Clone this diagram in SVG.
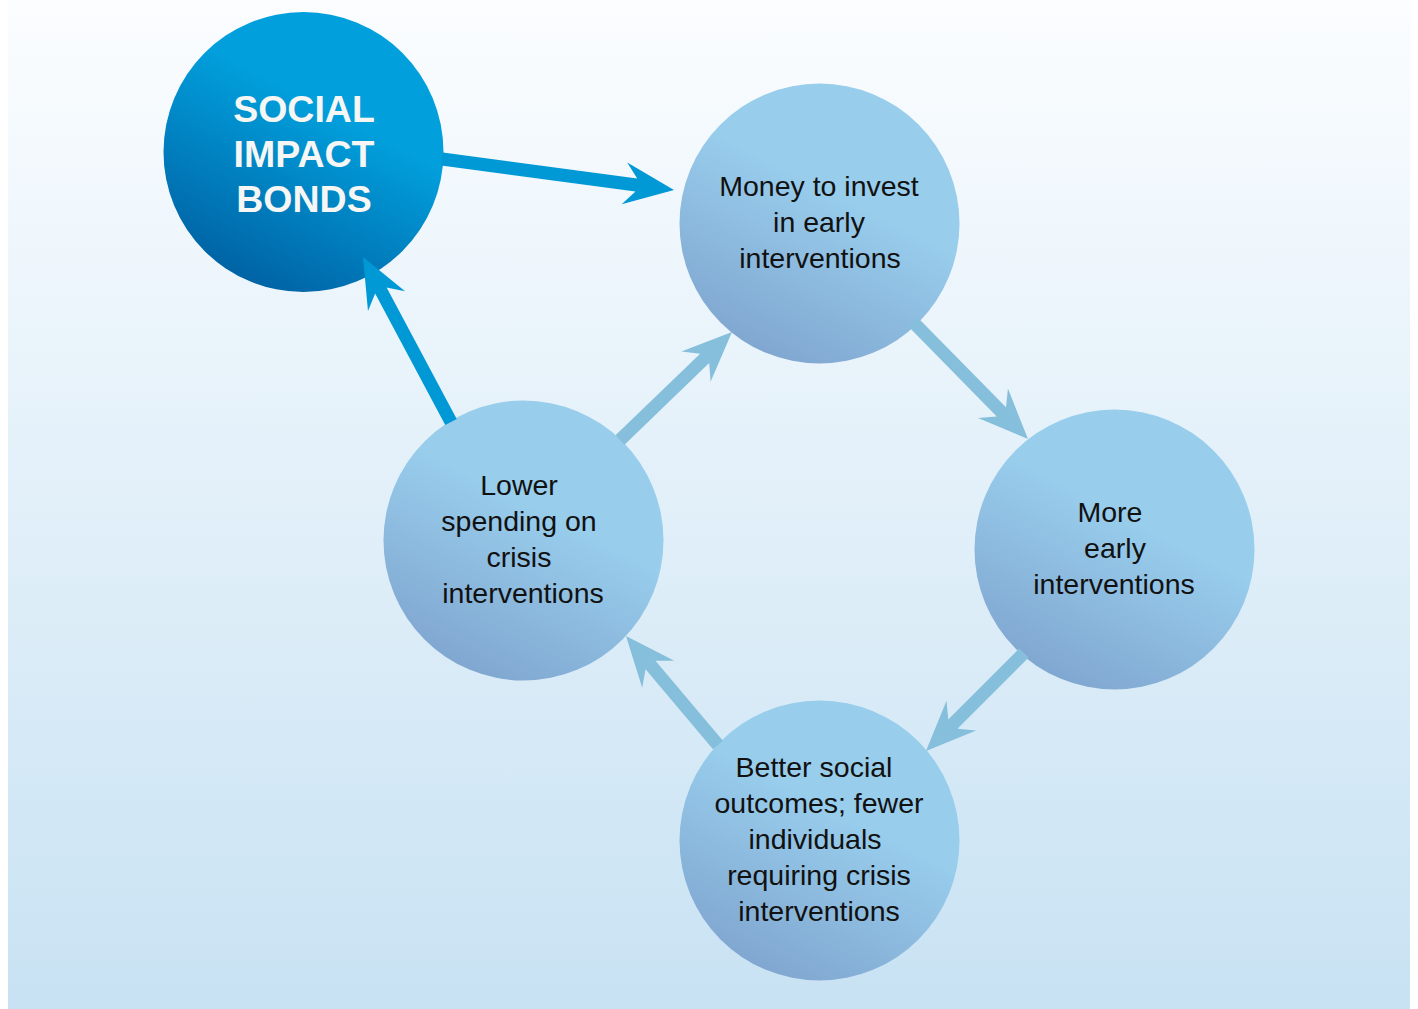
<svg xmlns="http://www.w3.org/2000/svg" width="1418" height="1009" viewBox="0 0 1418 1009">
<defs>
<linearGradient id="bg" x1="0" y1="0" x2="0" y2="1">
<stop offset="0" stop-color="#fbfdff"/>
<stop offset="1" stop-color="#c8e2f3"/>
</linearGradient>
<linearGradient id="gLight" x1="0.75" y1="0.1" x2="0.3" y2="0.98">
<stop offset="0.35" stop-color="#98cdec"/>
<stop offset="1" stop-color="#80a6d0"/>
</linearGradient>
<linearGradient id="gDark" x1="0.75" y1="0.1" x2="0.3" y2="0.98">
<stop offset="0.3" stop-color="#019fdc"/>
<stop offset="1" stop-color="#0062a4"/>
</linearGradient>
<style>
.lt{fill:#111;font-family:"Liberation Sans",Arial,sans-serif;font-size:28.5px;text-anchor:middle}
.sib{fill:#f6f6f4;font-family:"Liberation Sans",Arial,sans-serif;font-size:37.5px;font-weight:bold;text-anchor:middle}
.ad{fill:#0099d5}
.al{fill:#86bfdc}
</style>
</defs>
<rect x="0" y="0" width="1418" height="1009" fill="#ffffff"/>
<rect x="8" y="0" width="1402" height="1009" fill="url(#bg)"/>
<g id="sib">
<circle cx="303.5" cy="152" r="140" fill="url(#gDark)"/>
<text class="sib" x="304" y="122">SOCIAL</text>
<text class="sib" x="304" y="167">IMPACT</text>
<text class="sib" x="304" y="212">BONDS</text>
</g>
<g id="money">
<circle cx="819.5" cy="223.5" r="140" fill="url(#gLight)"/>
<text class="lt" x="819" y="196">Money to invest</text>
<text class="lt" x="819" y="232">in early</text>
<text class="lt" x="820" y="268">interventions</text>
</g>
<g id="more">
<circle cx="1114.5" cy="549.5" r="140" fill="url(#gLight)"/>
<text class="lt" x="1110" y="522">More</text>
<text class="lt" x="1115" y="558">early</text>
<text class="lt" x="1114" y="594">interventions</text>
</g>
<g id="better">
<circle cx="819.5" cy="840.5" r="140" fill="url(#gLight)"/>
<text class="lt" x="814" y="777">Better social</text>
<text class="lt" x="819" y="813">outcomes; fewer</text>
<text class="lt" x="815" y="849">individuals</text>
<text class="lt" x="819" y="885">requiring crisis</text>
<text class="lt" x="819" y="921">interventions</text>
</g>
<g id="lower">
<circle cx="523.5" cy="540.5" r="140" fill="url(#gLight)"/>
<text class="lt" x="519" y="495">Lower</text>
<text class="lt" x="519" y="531">spending on</text>
<text class="lt" x="519" y="567">crisis</text>
<text class="lt" x="523" y="603">interventions</text>
</g>
<g id="connectors">
<polygon class="ad" transform="translate(674,190) rotate(7.61)" points="-234,-6.5 -38,-6.5 -50,-21 0,0 -50,21 -38,6.5 -234,6.5"/>
<polygon class="al" transform="translate(1028,439) rotate(45.49)" points="-164,-6.5 -38,-6.5 -50,-21 0,0 -50,21 -38,6.5 -164,6.5"/>
<polygon class="al" transform="translate(926,751) rotate(135)" points="-138.6,-6.5 -38,-6.5 -50,-21 0,0 -50,21 -38,6.5 -138.6,6.5"/>
<polygon class="al" transform="translate(626,636) rotate(-130.16)" points="-142.6,-6.5 -38,-6.5 -50,-21 0,0 -50,21 -38,6.5 -142.6,6.5"/>
<polygon class="al" transform="translate(732,332) rotate(-43.96)" points="-155.6,-6.5 -38,-6.5 -50,-21 0,0 -50,21 -38,6.5 -155.6,6.5"/>
<polygon class="ad" transform="translate(363,257) rotate(-118.07)" points="-187,-6.5 -38,-6.5 -50,-21 0,0 -50,21 -38,6.5 -187,6.5"/>
</g>
</svg>
